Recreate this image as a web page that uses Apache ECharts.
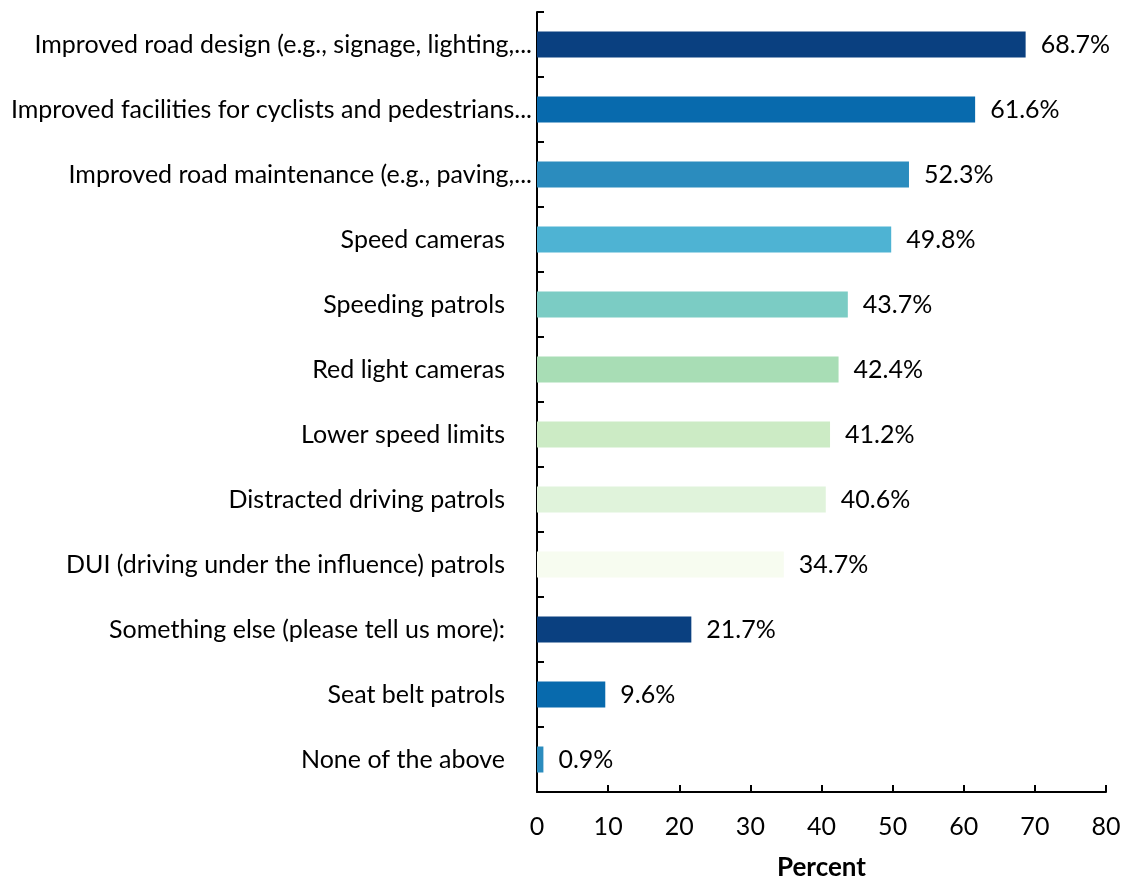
<!DOCTYPE html>
<html>
<head>
<meta charset="utf-8">
<script src="https://cdn.jsdelivr.net/npm/echarts@6/dist/echarts.min.js"></script>
<style>
  html, body { margin: 0; padding: 0; background: #fff; }
  #chart { width: 1125px; height: 879px; }
</style>
</head>
<body>
<div id="chart"></div>
<script>
// Survey responses, listed top to bottom
const categories = [
  'Improved road design (e.g., signage, lighting,...',
  'Improved facilities for cyclists and pedestrians...',
  'Improved road maintenance (e.g., paving,...',
  'Speed cameras',
  'Speeding patrols',
  'Red light cameras',
  'Lower speed limits',
  'Distracted driving patrols',
  'DUI (driving under the influence) patrols',
  'Something else (please tell us more):',
  'Seat belt patrols',
  'None of the above'
];
const percents = [68.7, 61.6, 52.3, 49.8, 43.7, 42.4, 41.2, 40.6, 34.7, 21.7, 9.6, 0.9];
const barColors = ['#0a4080', '#086aad', '#2b8cbe', '#4eb3d3', '#7bccc4', '#a8ddb5',
                   '#ccebc5', '#e0f3db', '#f7fcf0', '#0a4080', '#086aad', '#2b8cbe'];
const xTicks = [0, 10, 20, 30, 40, 50, 60, 70, 80];

const FONT = 'Lato';
const FS = 25;
const chart = echarts.init(document.getElementById('chart'));

chart.setOption({
  animation: false,
  textStyle: { fontFamily: FONT },
  grid: { left: 537, right: 19, top: 12, bottom: 87, containLabel: false, outerBoundsMode: 'none' },
  xAxis: {
    type: 'value',
    min: xTicks[0],
    max: xTicks[xTicks.length - 1],
    interval: 10,
    name: 'Percent',
    nameLocation: 'middle',
    nameGap: 63,
    nameTextStyle: { fontFamily: FONT, fontSize: 26, fontWeight: 'bold', color: '#000' },
    axisLine: { show: true, lineStyle: { color: '#000', width: 2 } },
    axisTick: { show: true, inside: true, length: 7, lineStyle: { color: '#000', width: 2 } },
    axisLabel: { fontFamily: FONT, fontSize: FS, color: '#000', margin: 22 },
    splitLine: { show: false }
  },
  yAxis: {
    type: 'category',
    data: categories,
    inverse: true,
    axisLine: { show: true, lineStyle: { color: '#000', width: 2 } },
    axisTick: { show: true, inside: true, length: 7, alignWithLabel: false, lineStyle: { color: '#000', width: 2 } },
    axisLabel: {
      fontFamily: FONT,
      fontSize: FS,
      color: '#000',
      margin: 5,
      formatter: function (v) {
        // full-length labels sit further left of the axis than truncated ones
        return v.endsWith('...') ? '{t|' + v + '}' : '{f|' + v + '}';
      },
      rich: {
        t: { fontFamily: FONT, fontSize: FS, color: '#000' },
        f: { fontFamily: FONT, fontSize: FS, color: '#000', padding: [0, 27, 0, 0] }
      }
    }
  },
  series: [{
    type: 'bar',
    data: percents.map((v, i) => ({ value: v, itemStyle: { color: barColors[i] } })),
    barWidth: '40%',
    label: {
      show: true,
      position: 'right',
      distance: 15,
      fontFamily: FONT,
      fontSize: FS,
      color: '#000',
      formatter: p => p.value.toFixed(1) + '%'
    }
  }]
});
</script>
</body>
</html>
